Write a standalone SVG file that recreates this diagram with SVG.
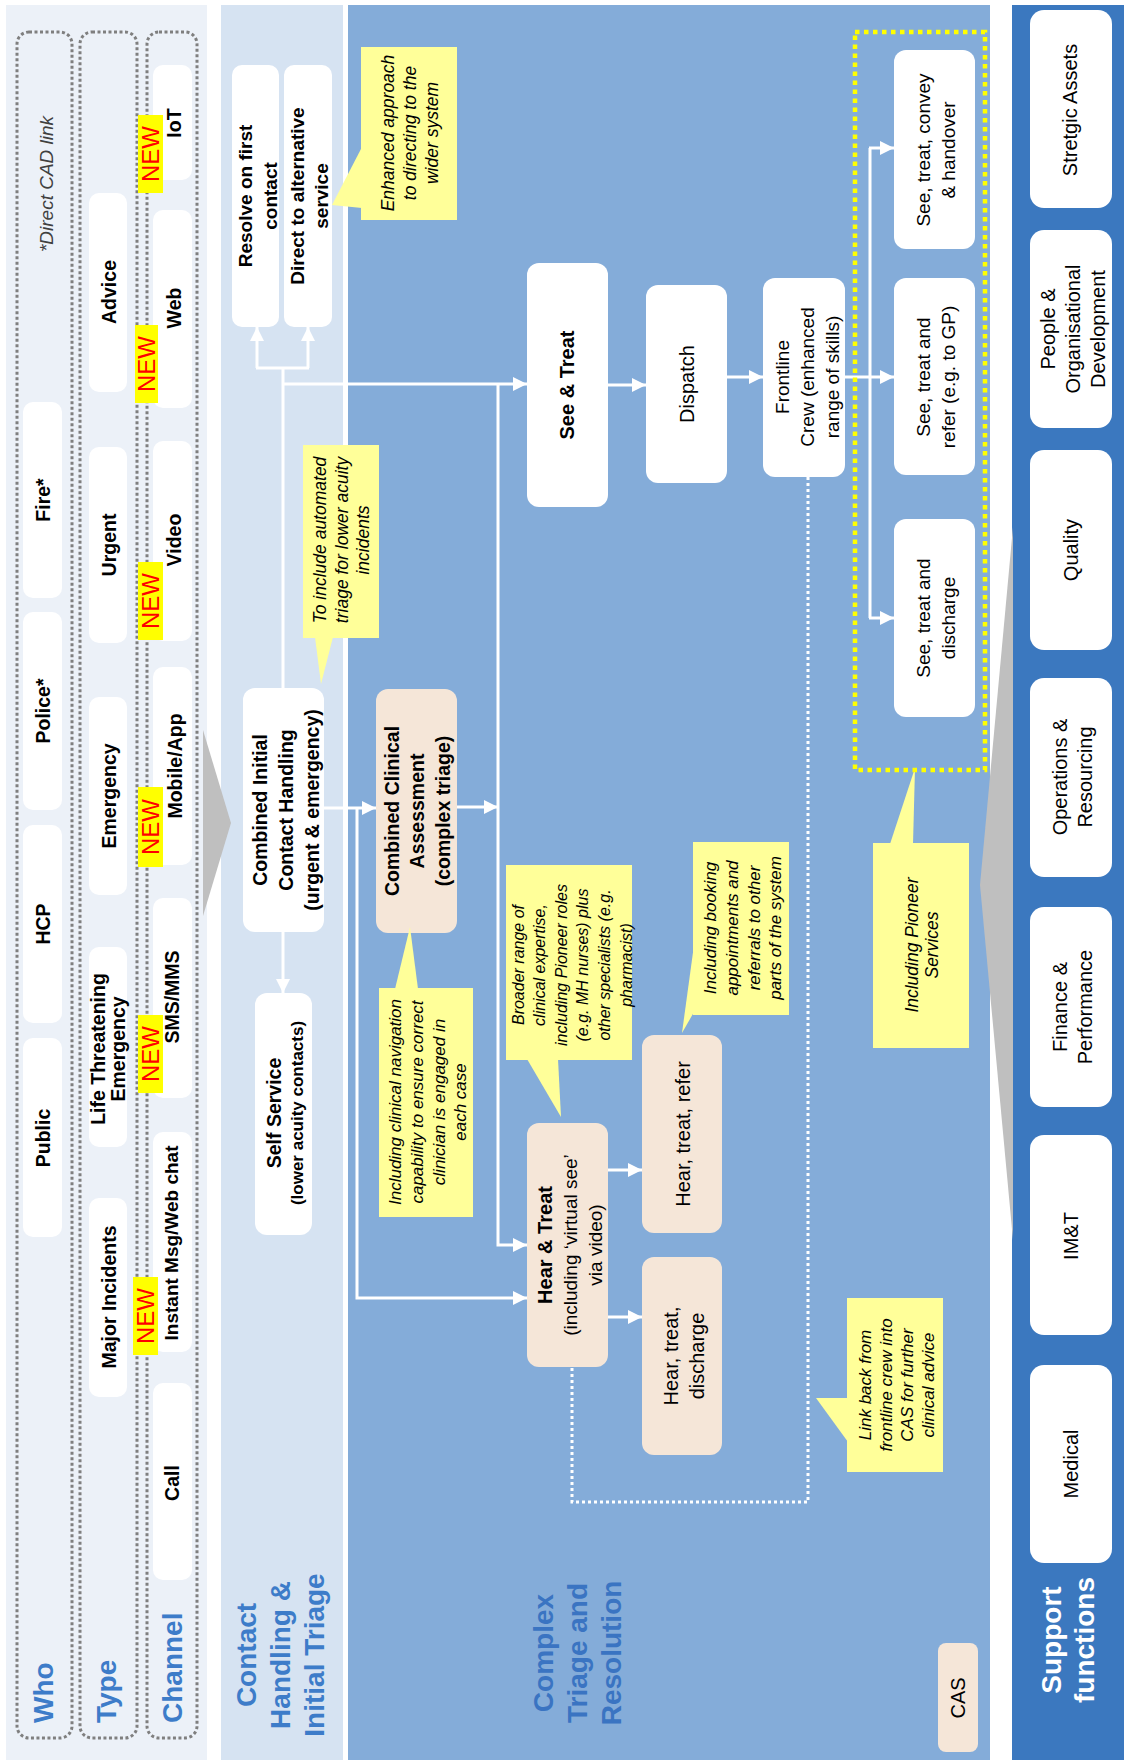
<svg xmlns="http://www.w3.org/2000/svg" width="1124" height="1760" viewBox="0 0 1124 1760">
<style>
text{font-family:"Liberation Sans",Arial,Helvetica,sans-serif;dominant-baseline:central;text-anchor:middle;fill:#000}
tspan{dominant-baseline:central}
.b{font-weight:bold}
.i{font-style:italic}
.f16{font-size:16px}.f17{font-size:17px}.f175{font-size:17.5px}.f19{font-size:19px}.f195{font-size:19.5px}.f20{font-size:20px}
.box{fill:#fff}
.cas{fill:#F5E6D8}
.note{fill:#FFFF99}
.lane{fill:none;stroke:#7F7F7F;stroke-width:3;stroke-dasharray:3 2.5}
.newr{fill:#FFFF00}
.newt{fill:#FF0000;font-size:24px}
.conn{fill:none;stroke:#fff;stroke-width:3}
.dot{stroke-dasharray:3 3}
.title{font-weight:bold;font-size:28px;fill:#3D7CC9}
.st{text-anchor:start}
</style>
<defs>
<marker id="ah" markerUnits="userSpaceOnUse" markerWidth="14" markerHeight="14" viewBox="0 0 14 14" refX="14" refY="7" orient="auto"><path d="M0,0 L14,7 L0,14 z" fill="#fff"/></marker>
</defs>

<g id="bands">
<rect x="6" y="5" width="201" height="1755" fill="#ECF1F8"/>
<rect x="221" y="5" width="122" height="1755" fill="#D6E3F2"/>
<rect x="348" y="5" width="642" height="1755" fill="#84ACD9"/>
<rect x="1012" y="5" width="112" height="1755" fill="#3B78BF"/>
<polygon points="203,730 231,823 203,916" fill="#BFBFBF"/>
<polygon points="1013,527 980,885 1013,1240" fill="#BFBFBF"/>
</g>

<g id="lanes">
<rect class="lane" x="17" y="32" width="55" height="1706" rx="12"/>
<rect class="lane" x="80" y="32" width="57" height="1706" rx="12"/>
<rect class="lane" x="147" y="32" width="50" height="1706" rx="12"/>
<text class="i f19" fill="#404040" style="fill:#404040" transform="translate(46,184) rotate(-90)">*Direct CAD link</text>
<text class="title st" transform="translate(43,1723) rotate(-90)">Who</text>
<text class="title st" transform="translate(106,1723) rotate(-90)">Type</text>
<text class="title st" transform="translate(172.5,1723) rotate(-90)">Channel</text>
</g>

<g id="who-fire"><rect class="box" x="23" y="402" width="39" height="196" rx="10"/><text class="b f195" transform="translate(43,500) rotate(-90)">Fire*</text></g>
<g id="who-police"><rect class="box" x="23" y="612" width="39" height="198" rx="10"/><text class="b f195" transform="translate(43,711) rotate(-90)">Police*</text></g>
<g id="who-hcp"><rect class="box" x="23" y="825" width="39" height="198" rx="10"/><text class="b f195" transform="translate(43,924) rotate(-90)">HCP</text></g>
<g id="who-public"><rect class="box" x="23" y="1038" width="39" height="199" rx="10"/><text class="b f195" transform="translate(43,1138) rotate(-90)">Public</text></g>

<g id="type-advice"><rect class="box" x="89" y="193" width="38" height="199" rx="10"/><text class="b f195" transform="translate(109,292) rotate(-90)">Advice</text></g>
<g id="type-urgent"><rect class="box" x="89" y="447" width="38" height="196" rx="10"/><text class="b f195" transform="translate(109,545) rotate(-90)">Urgent</text></g>
<g id="type-emergency"><rect class="box" x="89" y="697" width="38" height="198" rx="10"/><text class="b f195" transform="translate(109,796) rotate(-90)">Emergency</text></g>
<g id="type-life"><rect class="box" x="89" y="947" width="38" height="200" rx="10"/><text class="b f195" transform="translate(107.5,1049) rotate(-90)"><tspan x="0" y="-10">Life Threatening</tspan><tspan x="0" y="10">Emergency</tspan></text></g>
<g id="type-major"><rect class="box" x="89" y="1198" width="38" height="199" rx="10"/><text class="b f195" transform="translate(109,1297) rotate(-90)">Major Incidents</text></g>

<g id="ch-iot"><rect class="box" x="153" y="65" width="39" height="115" rx="10"/><text class="b f195" transform="translate(174,123) rotate(-90)">IoT</text>
<rect class="newr" x="138" y="115" width="25" height="78"/><text class="newt" transform="translate(150.5,154) rotate(-90)">NEW</text></g>
<g id="ch-web"><rect class="box" x="153" y="210" width="39" height="198" rx="10"/><text class="b f195" transform="translate(174,308) rotate(-90)">Web</text>
<rect class="newr" x="135" y="325" width="23" height="78"/><text class="newt" transform="translate(146.5,364) rotate(-90)">NEW</text></g>
<g id="ch-video"><rect class="box" x="153" y="441" width="39" height="200" rx="10"/><text class="b f195" transform="translate(174,540) rotate(-90)">Video</text>
<rect class="newr" x="138" y="562" width="25" height="78"/><text class="newt" transform="translate(150.5,601) rotate(-90)">NEW</text></g>
<g id="ch-mobile"><rect class="box" x="153" y="667" width="39" height="198" rx="10"/><text class="b f195" transform="translate(175,766) rotate(-90)">Mobile/App</text>
<rect class="newr" x="138" y="787" width="25" height="80"/><text class="newt" transform="translate(150.5,827) rotate(-90)">NEW</text></g>
<g id="ch-sms"><rect class="box" x="153" y="898" width="39" height="200" rx="10"/><text class="b f195" transform="translate(172,997) rotate(-90)">SMS/MMS</text>
<rect class="newr" x="138" y="1015" width="25" height="78"/><text class="newt" transform="translate(150.5,1054) rotate(-90)">NEW</text></g>
<g id="ch-instant"><rect class="box" x="153" y="1132" width="39" height="220" rx="10"/><text class="b f19" transform="translate(171,1243) rotate(-90)">Instant Msg/Web chat</text>
<rect class="newr" x="133" y="1277" width="25" height="78"/><text class="newt" transform="translate(145.5,1316) rotate(-90)">NEW</text></g>
<g id="ch-call"><rect class="box" x="153" y="1383" width="39" height="197" rx="10"/><text class="b f195" transform="translate(172,1483) rotate(-90)">Call</text></g>

<g id="label-contact"><text class="title" transform="translate(280,1655) rotate(-90)"><tspan x="0" y="-34">Contact</tspan><tspan x="0" y="0">Handling &amp;</tspan><tspan x="0" y="34">Initial Triage</tspan></text></g>
<g id="label-complex"><text class="title" style="fill:#3A74C2" transform="translate(577,1653) rotate(-90)"><tspan x="0" y="-34">Complex</tspan><tspan x="0" y="0">Triage and</tspan><tspan x="0" y="34">Resolution</tspan></text></g>

<g id="connectors">
<path class="conn" d="M283,688 V368"/>
<path class="conn" d="M256,368 H309"/>
<path class="conn" d="M257,368 V327" marker-end="url(#ah)"/>
<path class="conn" d="M308,368 V327" marker-end="url(#ah)"/>
<path class="conn" d="M283,384 H527" marker-end="url(#ah)"/>
<path class="conn" d="M324,808 H376" marker-end="url(#ah)"/>
<path class="conn" d="M357,808 V1298 H527" marker-end="url(#ah)"/>
<path class="conn" d="M457,807 H498" marker-end="url(#ah)"/>
<path class="conn" d="M498,384 V1245 H527" marker-end="url(#ah)"/>
<path class="conn" d="M283,932 V993" marker-end="url(#ah)"/>
<path class="conn" d="M608,385 H646" marker-end="url(#ah)"/>
<path class="conn" d="M727,377 H763" marker-end="url(#ah)"/>
<path class="conn" d="M845,377 H894" marker-end="url(#ah)"/>
<path class="conn" d="M870,148 V618"/>
<path class="conn" d="M869,148 H894" marker-end="url(#ah)"/>
<path class="conn" d="M869,618 H894" marker-end="url(#ah)"/>
<path class="conn" d="M608,1170 H642" marker-end="url(#ah)"/>
<path class="conn" d="M608,1317 H642" marker-end="url(#ah)"/>
<path class="conn dot" d="M808,477 V1502 H572 V1367"/>
</g>

<g id="resolve"><rect class="box" x="232" y="65" width="47" height="262" rx="10"/><text class="b f19" transform="translate(257.5,196) rotate(-90)"><tspan x="0" y="-12.5">Resolve on first</tspan><tspan x="0" y="12.5">contact</tspan></text></g>
<g id="direct"><rect class="box" x="284" y="65" width="48" height="262" rx="10"/><text class="b f19" transform="translate(309,196) rotate(-90)"><tspan x="0" y="-12">Direct to alternative</tspan><tspan x="0" y="12">service</tspan></text></g>
<g id="combined-initial"><rect class="box" x="243" y="688" width="81" height="244" rx="12"/><text class="b f195" transform="translate(286,810) rotate(-90)"><tspan x="0" y="-26">Combined Initial</tspan><tspan x="0" y="0">Contact Handling</tspan><tspan x="0" y="26">(urgent &amp; emergency)</tspan></text></g>
<g id="self-service"><rect class="box" x="255" y="993" width="57" height="242" rx="12"/><text class="b f195" transform="translate(274,1113) rotate(-90)">Self Service</text><text class="b f17" transform="translate(297,1113) rotate(-90)">(lower acuity contacts)</text></g>

<g id="see-treat"><rect class="box" x="527" y="263" width="81" height="244" rx="12"/><text class="b f20" transform="translate(567,385) rotate(-90)">See &amp; Treat</text></g>
<g id="dispatch"><rect class="box" x="646" y="285" width="81" height="198" rx="12"/><text class="f20" transform="translate(687,384) rotate(-90)">Dispatch</text></g>
<g id="frontline"><rect class="box" x="763" y="278" width="82" height="199" rx="12"/><text class="f19" transform="translate(807,377) rotate(-90)"><tspan x="0" y="-25">Frontline</tspan><tspan x="0" y="0">Crew (enhanced</tspan><tspan x="0" y="25">range of skills)</tspan></text></g>
<g id="see-convey"><rect class="box" x="894" y="50" width="81" height="199" rx="12"/><text class="f19" transform="translate(935.5,150) rotate(-90)"><tspan x="0" y="-12.5">See, treat, convey</tspan><tspan x="0" y="12.5">&amp; handover</tspan></text></g>
<g id="see-refer"><rect class="box" x="894" y="278" width="81" height="197" rx="12"/><text class="f19" transform="translate(935.5,377) rotate(-90)"><tspan x="0" y="-12.5">See, treat and</tspan><tspan x="0" y="12.5">refer (e.g. to GP)</tspan></text></g>
<g id="see-discharge"><rect class="box" x="894" y="519" width="81" height="198" rx="12"/><text class="f19" transform="translate(935.5,618) rotate(-90)"><tspan x="0" y="-12.5">See, treat and</tspan><tspan x="0" y="12.5">discharge</tspan></text></g>

<g id="cca"><rect class="cas" x="376" y="689" width="81" height="244" rx="12"/><text class="b f195" transform="translate(417,811) rotate(-90)"><tspan x="0" y="-25.5">Combined Clinical</tspan><tspan x="0" y="0">Assessment</tspan><tspan x="0" y="26">(complex triage)</tspan></text></g>
<g id="hear-treat"><rect class="cas" x="527" y="1123" width="81" height="244" rx="12"/><text class="f19" transform="translate(570,1245) rotate(-90)"><tspan x="0" y="-25.5" class="b f20">Hear &amp; Treat</tspan><tspan x="0" y="0">(including ‘virtual see’</tspan><tspan x="0" y="25">via video)</tspan></text></g>
<g id="hear-refer"><rect class="cas" x="642" y="1035" width="80" height="198" rx="12"/><text class="f20" transform="translate(682.5,1134) rotate(-90)">Hear, treat, refer</text></g>
<g id="hear-discharge"><rect class="cas" x="642" y="1257" width="80" height="198" rx="12"/><text class="f20" transform="translate(683.5,1356) rotate(-90)"><tspan x="0" y="-13">Hear, treat,</tspan><tspan x="0" y="13">discharge</tspan></text></g>

<g id="note-automated"><rect class="note" x="303" y="445" width="76" height="193"/><polygon class="note" points="315,637 333,637 321,684"/><text class="i f175" transform="translate(341.5,540) rotate(-90)"><tspan x="0" y="-21.5">To include automated</tspan><tspan x="0" y="0">triage for lower acuity</tspan><tspan x="0" y="21.5">incidents</tspan></text></g>
<g id="note-enhanced"><rect class="note" x="361" y="47" width="96" height="173"/><polygon class="note" points="362,147 332,205 362,208"/><text class="i f175" transform="translate(410,133) rotate(-90)"><tspan x="0" y="-22">Enhanced approach</tspan><tspan x="0" y="0">to directing to the</tspan><tspan x="0" y="22">wider system</tspan></text></g>
<g id="note-navigation"><rect class="note" x="379" y="988" width="94" height="229"/><polygon class="note" points="395,989 410,927 418,989"/><text class="i f17" transform="translate(427,1102) rotate(-90)"><tspan x="0" y="-32.5">Including clinical navigation</tspan><tspan x="0" y="-10.5">capability to ensure correct</tspan><tspan x="0" y="11.5">clinician is engaged in</tspan><tspan x="0" y="33">each case</tspan></text></g>
<g id="note-broader"><rect class="note" x="506" y="865" width="126" height="195"/><polygon class="note" points="527,1059 561,1117 558,1059"/><text class="i f16" transform="translate(571.5,965) rotate(-90)"><tspan x="0" y="-54">Broader range of</tspan><tspan x="0" y="-32.4">clinical expertise,</tspan><tspan x="0" y="-10.8">including Pioneer roles</tspan><tspan x="0" y="10.8">(e.g. MH nurses) plus</tspan><tspan x="0" y="32.4">other specialists (e.g.</tspan><tspan x="0" y="54">pharmacist)</tspan></text></g>
<g id="note-booking"><rect class="note" x="693" y="842" width="96" height="173"/><polygon class="note" points="694,945 682,1033 694,1012"/><text class="i f17" transform="translate(742.5,928) rotate(-90)"><tspan x="0" y="-32.5">Including booking</tspan><tspan x="0" y="-11">appointments and</tspan><tspan x="0" y="11">referrals to other</tspan><tspan x="0" y="32.5">parts of the system</tspan></text></g>
<g id="note-pioneer"><rect class="note" x="873" y="843" width="96" height="205"/><polygon class="note" points="890,844 915,768 913,844"/><text class="i f175" transform="translate(922,945) rotate(-90)"><tspan x="0" y="-10">Including Pioneer</tspan><tspan x="0" y="10">Services</tspan></text></g>
<g id="note-linkback"><rect class="note" x="847" y="1298" width="96" height="174"/><polygon class="note" points="848,1398 816,1398 848,1442"/><text class="i f17" transform="translate(896,1385) rotate(-90)"><tspan x="0" y="-31.5">Link back from</tspan><tspan x="0" y="-10.5">frontline crew into</tspan><tspan x="0" y="10.5">CAS for further</tspan><tspan x="0" y="31.5">clinical advice</tspan></text></g>

<g id="pioneer-frame"><rect x="855" y="32" width="130" height="738" fill="none" stroke="#FFFF00" stroke-width="4.5" stroke-dasharray="4.5 4.5"/></g>

<g id="cas-legend"><rect class="cas" x="938" y="1643" width="40" height="109" rx="8"/><text class="f20" transform="translate(958,1698) rotate(-90)">CAS</text></g>

<g id="support">
<text class="title" style="fill:#fff" transform="translate(1067.5,1640) rotate(-90)"><tspan x="0" y="-16.5">Support</tspan><tspan x="0" y="16.5">functions</tspan></text>
</g>
<g id="sup-assets"><rect class="box" x="1030" y="10" width="82" height="198" rx="14"/><text class="f20" transform="translate(1070,110) rotate(-90)">Stretgic Assets</text></g>
<g id="sup-people"><rect class="box" x="1030" y="230" width="82" height="198" rx="14"/><text class="f20" transform="translate(1072.5,329) rotate(-90)"><tspan x="0" y="-25">People &amp;</tspan><tspan x="0" y="0">Organisational</tspan><tspan x="0" y="25">Development</tspan></text></g>
<g id="sup-quality"><rect class="box" x="1030" y="450" width="82" height="200" rx="14"/><text class="f20" transform="translate(1071,550) rotate(-90)">Quality</text></g>
<g id="sup-operations"><rect class="box" x="1030" y="678" width="82" height="199" rx="14"/><text class="f20" transform="translate(1072.5,777) rotate(-90)"><tspan x="0" y="-12.5">Operations &amp;</tspan><tspan x="0" y="12.5">Resourcing</tspan></text></g>
<g id="sup-finance"><rect class="box" x="1030" y="907" width="82" height="200" rx="14"/><text class="f20" transform="translate(1072.5,1007) rotate(-90)"><tspan x="0" y="-12.5">Finance &amp;</tspan><tspan x="0" y="12.5">Performance</tspan></text></g>
<g id="sup-imt"><rect class="box" x="1030" y="1135" width="82" height="200" rx="14"/><text class="f20" transform="translate(1071,1236) rotate(-90)">IM&amp;T</text></g>
<g id="sup-medical"><rect class="box" x="1030" y="1365" width="82" height="198" rx="14"/><text class="f20" transform="translate(1071,1464) rotate(-90)">Medical</text></g>
</svg>
